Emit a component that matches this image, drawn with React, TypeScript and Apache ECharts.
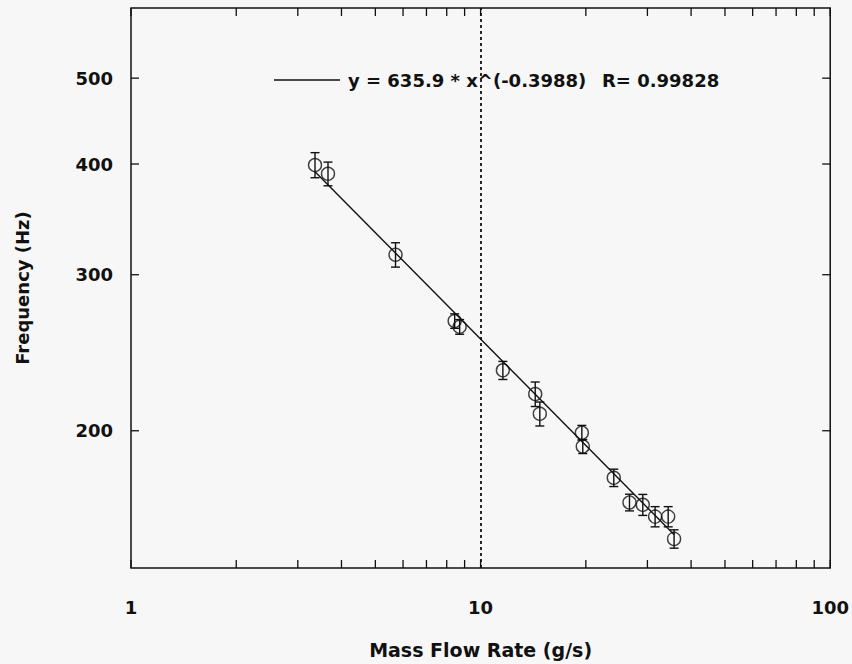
import React, { useEffect, useRef } from "react";
import * as echarts from "echarts";

// Measured data (mass flow rate g/s, frequency Hz, error Hz)
const massFlow = [3.36, 3.66, 5.71, 8.43, 8.71, 11.58, 14.33, 14.77, 19.48, 19.6, 24.04, 26.66, 29.1, 31.56, 34.4, 35.76];
const frequency = [399, 390, 316, 266, 262, 234, 220, 209, 199, 192, 177, 166, 165, 160, 160, 151];
const freqError = [13, 12, 10, 5, 5, 5.5, 7, 6.5, 3.8, 3.5, 4, 3.6, 4.5, 4.2, 4.2, 3.6];

// Power-law fit line endpoints (y = 635.9 * x^(-0.3988))
const fitX = [3.35, 35.8];
const fitY = [392.6, 152.6];
const fitLabel = "y = 635.9 * x^(-0.3988)";
const fitR = "R= 0.99828";

// Axes
const xTicks = [1, 2, 3, 4, 5, 6, 7, 8, 9, 10, 20, 30, 40, 50, 60, 70, 80, 90, 100];
const yTicks = [200, 300, 400, 500];
const xMin = 1, xMax = 100, yMin = 140, yMax = 600;
const markerX = 10;

const FONT = "'DejaVu Sans', sans-serif";
const INK = "#111";

export default function App() {
  const ref = useRef<HTMLDivElement>(null);
  useEffect(() => {
    if (!ref.current) return;
    const chart = echarts.init(ref.current, undefined, { renderer: "svg" });
    const points = massFlow.map((x, i) => [x, frequency[i]]);
    const errData = massFlow.map((x, i) => [x, frequency[i] - freqError[i], frequency[i] + freqError[i]]);
    const TL = 8;
    chart.setOption({
      animation: false,
      backgroundColor: "#f7f7f7",
      grid: {
        left: 131, right: 21, top: 8, bottom: 96,
        show: true, borderColor: INK, borderWidth: 1.5, backgroundColor: "transparent",
      },
      xAxis: {
        type: "log", logBase: 10, min: xMin, max: xMax,
        name: "Mass Flow Rate (g/s)", nameLocation: "middle", nameGap: 72,
        nameTextStyle: { fontSize: 19, fontWeight: "bold", fontFamily: FONT, color: INK },
        axisLine: { show: false }, axisTick: { show: false }, splitLine: { show: false },
        axisLabel: { fontSize: 18, fontWeight: "bold", fontFamily: FONT, color: INK, margin: 30 },
      },
      yAxis: {
        type: "log", logBase: 10, min: yMin, max: yMax,
        name: "Frequency (Hz)", nameLocation: "middle", nameGap: 100,
        nameTextStyle: { fontSize: 18, fontWeight: "bold", fontFamily: FONT, color: INK },
        axisLine: { show: false }, axisTick: { show: false }, splitLine: { show: false },
        axisLabel: { show: false },
      },
      graphic: [
        { type: "line", shape: { x1: 274, y1: 80, x2: 340, y2: 80 }, style: { stroke: INK, lineWidth: 1.5 } },
        { type: "text", x: 348, y: 80, style: { text: fitLabel, fill: INK, fontSize: 18, fontWeight: "bold", fontFamily: FONT, verticalAlign: "middle" } },
        { type: "text", x: 602, y: 80, style: { text: fitR, fill: INK, fontSize: 18, fontWeight: "bold", fontFamily: FONT, verticalAlign: "middle" } },
      ],
      series: [
        {
          type: "custom", silent: true, clip: false,
          data: xTicks.map((v) => [v, yMin]),
          encode: { x: 0, y: 1 },
          renderItem: (params: any, api: any) => {
            const p = api.coord([api.value(0), yMin]);
            const cs = params.coordSys;
            const st = { stroke: INK, lineWidth: 1.3 };
            return {
              type: "group",
              children: [
                { type: "line", shape: { x1: p[0], y1: cs.y + cs.height, x2: p[0], y2: cs.y + cs.height - TL }, style: st },
                { type: "line", shape: { x1: p[0], y1: cs.y, x2: p[0], y2: cs.y + TL }, style: st },
              ],
            };
          },
        },
        {
          type: "custom", silent: true, clip: false,
          data: yTicks.map((v) => [xMin, v]),
          encode: { x: 0, y: 1 },
          renderItem: (params: any, api: any) => {
            const v = api.value(1);
            const p = api.coord([xMin, v]);
            const cs = params.coordSys;
            const st = { stroke: INK, lineWidth: 1.3 };
            return {
              type: "group",
              children: [
                { type: "line", shape: { x1: cs.x, y1: p[1], x2: cs.x + TL, y2: p[1] }, style: st },
                { type: "line", shape: { x1: cs.x + cs.width, y1: p[1], x2: cs.x + cs.width - TL, y2: p[1] }, style: st },
                { type: "text", style: { x: cs.x - 18, y: p[1], text: String(v), align: "right", verticalAlign: "middle", fill: INK, fontSize: 18, fontWeight: "bold", fontFamily: FONT } },
              ],
            };
          },
        },
        {
          type: "line", data: fitX.map((x, i) => [x, fitY[i]]), showSymbol: false, symbol: "none",
          lineStyle: { color: INK, width: 1.4 }, silent: true,
        },
        {
          type: "custom", silent: true,
          data: errData,
          encode: { x: 0, y: [1, 2] },
          renderItem: (params: any, api: any) => {
            const x = api.value(0);
            const lo = api.coord([x, api.value(1)]);
            const hi = api.coord([x, api.value(2)]);
            const w = 4.5;
            const st = { stroke: INK, lineWidth: 1.4 };
            return {
              type: "group",
              children: [
                { type: "line", shape: { x1: lo[0], y1: lo[1], x2: hi[0], y2: hi[1] }, style: st },
                { type: "line", shape: { x1: lo[0] - w, y1: lo[1], x2: lo[0] + w, y2: lo[1] }, style: st },
                { type: "line", shape: { x1: hi[0] - w, y1: hi[1], x2: hi[0] + w, y2: hi[1] }, style: st },
              ],
            };
          },
        },
        {
          type: "scatter", data: points, symbol: "circle", symbolSize: 13,
          itemStyle: { color: "rgba(0,0,0,0)", borderColor: INK, borderWidth: 1.4 },
          silent: true,
          markLine: {
            silent: true, symbol: ["none", "none"], label: { show: false },
            lineStyle: { color: INK, type: [3, 3], width: 1.8 },
            data: [{ xAxis: markerX }],
          },
        },
      ],
    });
    return () => chart.dispose();
  }, []);
  return <div ref={ref} style={{ position: "fixed", left: 0, top: 0, width: 852, height: 664 }} />;
}
